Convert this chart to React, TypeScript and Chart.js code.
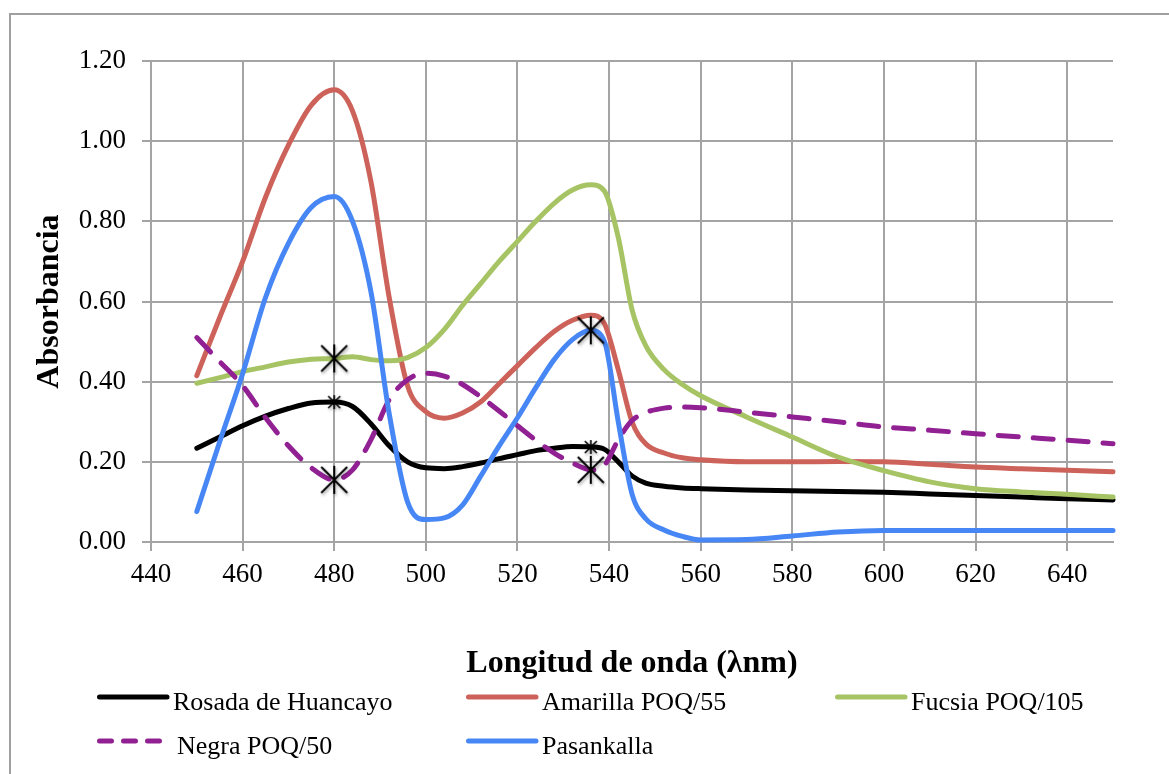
import React, { useEffect, useRef } from 'react';
import { Chart, registerables } from 'chart.js';

Chart.register(...registerables);

// ---- Data ----
const wavelengths = [450, 455, 460, 465, 470, 475, 480, 484, 488, 492, 496, 500, 504, 508, 512, 516, 520, 524, 528, 532, 536, 539, 542, 545, 548, 552, 556, 560, 570, 580, 590, 600, 610, 620, 630, 640, 650];

const rosada = [0.234, 0.262, 0.290, 0.314, 0.333, 0.347, 0.349, 0.338, 0.295, 0.240, 0.200, 0.185, 0.183, 0.188, 0.197, 0.208, 0.218, 0.228, 0.234, 0.238, 0.237, 0.231, 0.200, 0.165, 0.147, 0.139, 0.135, 0.133, 0.130, 0.128, 0.126, 0.124, 0.120, 0.116, 0.112, 0.108, 0.105];

const amarilla = [0.415, 0.560, 0.700, 0.860, 0.990, 1.090, 1.128, 1.075, 0.900, 0.610, 0.390, 0.325, 0.309, 0.322, 0.350, 0.395, 0.440, 0.485, 0.525, 0.553, 0.566, 0.544, 0.430, 0.300, 0.245, 0.222, 0.210, 0.205, 0.200, 0.200, 0.201, 0.200, 0.194, 0.187, 0.183, 0.179, 0.175];

const fucsia = [0.396, 0.410, 0.425, 0.437, 0.449, 0.456, 0.458, 0.462, 0.455, 0.452, 0.460, 0.485, 0.530, 0.590, 0.645, 0.700, 0.750, 0.800, 0.845, 0.878, 0.891, 0.875, 0.760, 0.580, 0.490, 0.430, 0.393, 0.365, 0.312, 0.262, 0.212, 0.178, 0.150, 0.133, 0.125, 0.119, 0.112];

const negra = [0.510, 0.450, 0.390, 0.310, 0.240, 0.185, 0.155, 0.180, 0.255, 0.355, 0.405, 0.421, 0.414, 0.393, 0.362, 0.327, 0.290, 0.254, 0.222, 0.197, 0.180, 0.192, 0.255, 0.303, 0.323, 0.334, 0.337, 0.335, 0.324, 0.312, 0.300, 0.287, 0.279, 0.270, 0.262, 0.254, 0.245];

const pasankalla = [0.076, 0.250, 0.420, 0.610, 0.745, 0.835, 0.862, 0.800, 0.625, 0.320, 0.100, 0.056, 0.060, 0.092, 0.165, 0.240, 0.310, 0.385, 0.455, 0.505, 0.528, 0.500, 0.300, 0.120, 0.058, 0.030, 0.014, 0.005, 0.006, 0.015, 0.025, 0.029, 0.029, 0.029, 0.029, 0.029, 0.029];

const xTickValues = [440, 460, 480, 500, 520, 540, 560, 580, 600, 620, 640];

const seriesLabels = ['Rosada de Huancayo', 'Amarilla POQ/55', 'Fucsia POQ/105', 'Negra POQ/50', 'Pasankalla'];
const seriesValues = [rosada, amarilla, fucsia, negra, pasankalla];
const seriesColors = ['#000000', '#CD625A', '#A7C465', '#912093', '#4686F5'];
const seriesDashed = [false, false, false, true, false];

// marked data points (wavelengths) per series, and whether marker is large
const markedAt = [[480, 536], [], [480], [480, 536], [536]];
const markerLarge = [false, false, true, true, true];

const gridColor = '#a4a4a4';

function makeMarker(size: number, lw: number) {
  const pad = 5;
  const c = document.createElement('canvas');
  c.width = size + pad * 2;
  c.height = size + pad * 2;
  const g = c.getContext('2d')!;
  g.strokeStyle = '#000';
  g.lineWidth = lw;
  g.shadowColor = 'rgba(0,0,0,0.35)';
  g.shadowBlur = 3;
  g.shadowOffsetX = 1;
  g.shadowOffsetY = 2;
  const m = pad, M = pad + size, cx = c.width / 2;
  g.beginPath();
  g.moveTo(m, m); g.lineTo(M, M);
  g.moveTo(M, m); g.lineTo(m, M);
  g.moveTo(cx, m - 1); g.lineTo(cx, M + 1);
  g.stroke();
  return c;
}

const framePlugin = {
  id: 'frame',
  beforeDraw(chart: any) {
    const c = chart.ctx;
    c.save();
    c.fillStyle = '#fff';
    c.fillRect(0, 0, chart.width, chart.height);
    c.strokeStyle = '#a0a0a0';
    c.lineWidth = 2;
    c.strokeRect(10, 14, 1250, 900);
    c.restore();
  },
};

const legendColX = [97, 466, 835];
const legendRowY = [697, 741];

const gridLegendPlugin = {
  id: 'gridLegend',
  afterDraw(chart: any) {
    const c = chart.ctx;
    chart.data.datasets.forEach((ds: any, i: number) => {
      const col = i % 3;
      const row = Math.floor(i / 3);
      const x0 = legendColX[col];
      const y = legendRowY[row];
      c.save();
      c.strokeStyle = ds.borderColor;
      c.lineWidth = 5;
      c.lineCap = 'round';
      c.beginPath();
      if (ds.borderDash && ds.borderDash.length) {
        c.setLineDash([12, 12]);
        c.moveTo(x0 + 2.5, y);
        c.lineTo(x0 + 62.5, y);
      } else {
        c.moveTo(x0 + 2.5, y);
        c.lineTo(x0 + 70, y);
      }
      c.stroke();
      c.setLineDash([]);
      c.fillStyle = '#000';
      c.font = '26px "Liberation Serif", "Times New Roman", serif';
      c.textBaseline = 'alphabetic';
      c.textAlign = 'left';
      c.fillText(ds.label, x0 + (row === 1 && col === 0 ? 80 : 76), y + 13);
      c.restore();
    });
  },
};

export default function App() {
  const ref = useRef<HTMLCanvasElement>(null);

  useEffect(() => {
    document.body.style.margin = '0';
    Chart.defaults.font.family = '"Liberation Serif", "Times New Roman", serif';
    Chart.defaults.color = '#000';

    const bigMarker = makeMarker(26, 2);
    const smallMarker = makeMarker(12, 1.6);

    const isMarked = (di: number, raw: any) =>
      raw && markedAt[di] && markedAt[di].indexOf(raw.x) >= 0;

    const datasets = seriesLabels.map((label, i) => ({
      label,
      data: wavelengths.map((x, k) => ({ x, y: seriesValues[i][k] })),
      borderColor: seriesColors[i],
      backgroundColor: seriesColors[i],
      borderWidth: 5,
      borderDash: seriesDashed[i] ? [20, 15] : [],
      borderCapStyle: 'round',
      borderJoinStyle: 'round',
      cubicInterpolationMode: 'monotone',
      fill: false,
      order: seriesLabels.length - i,
      clip: 8,
      pointRadius: (ctx: any) => (isMarked(ctx.datasetIndex, ctx.raw) ? 8 : 0),
      pointHoverRadius: 0,
      pointHitRadius: 0,
      pointBorderWidth: 0,
      pointStyle: (ctx: any) =>
        isMarked(ctx.datasetIndex, ctx.raw)
          ? (markerLarge[ctx.datasetIndex] ? bigMarker : smallMarker)
          : 'circle',
    }));

    const chart = new Chart(ref.current!, {
      type: 'line',
      data: { datasets } as any,
      plugins: [framePlugin, gridLegendPlugin],
      options: {
        animation: false,
        responsive: false,
        devicePixelRatio: 1,
        events: [],
        layout: { padding: { left: 10, right: 56, top: 61, bottom: 84 } },
        plugins: { legend: { display: false }, tooltip: { enabled: false } },
        scales: {
          x: {
            type: 'linear',
            min: 440,
            max: 650,
            afterBuildTicks: (s: any) => {
              s.ticks = xTickValues.map((v) => ({ value: v }));
            },
            afterFit: (s: any) => {
              s.height = 148;
            },
            ticks: {
              stepSize: 20,
              padding: 8,
              color: '#000',
              font: { size: 27 },
              maxRotation: 0,
              autoSkip: false,
            },
            grid: { color: gridColor, lineWidth: 2, tickLength: 9 },
            border: { color: gridColor, width: 2 },
            title: {
              display: true,
              text: 'Longitud de onda (λnm)',
              color: '#000',
              font: { size: 32, weight: 'bold' },
              padding: { top: 0, bottom: 7 },
            },
          },
          y: {
            min: 0,
            max: 1.2,
            afterFit: (s: any) => {
              s.width = 141;
            },
            ticks: {
              stepSize: 0.2,
              padding: 16,
              color: '#000',
              font: { size: 27 },
              callback: (v: any) => Number(v).toFixed(2),
            },
            grid: { color: gridColor, lineWidth: 2, tickLength: 9 },
            border: { color: gridColor, width: 2 },
            title: {
              display: true,
              text: 'Absorbancia',
              color: '#000',
              font: { size: 32, weight: 'bold' },
              padding: { top: 21, bottom: 0 },
            },
          },
        },
      } as any,
    });

    return () => chart.destroy();
  }, []);

  return (
    <canvas
      ref={ref}
      width={1169}
      height={774}
      style={{ display: 'block', width: 1169, height: 774 }}
    />
  );
}
